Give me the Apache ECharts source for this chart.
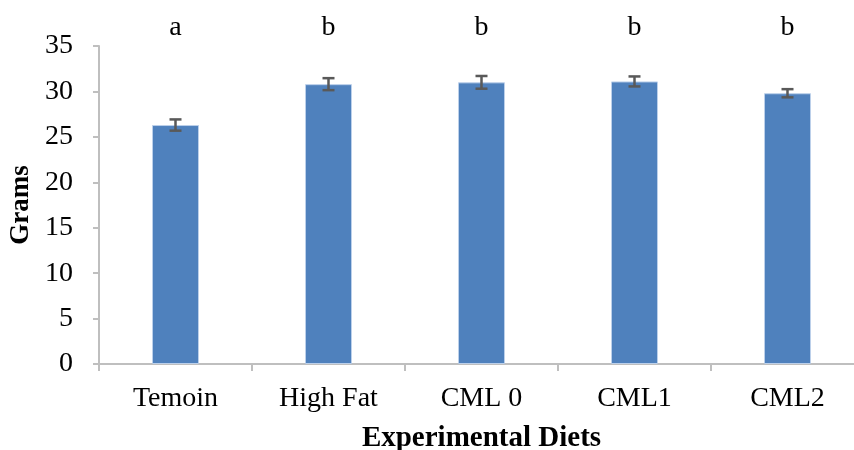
<!DOCTYPE html>
<html>
<head>
<meta charset="utf-8">
<script src="https://cdn.jsdelivr.net/npm/echarts@6/dist/echarts.min.js"></script>
<style>
  html, body { margin: 0; padding: 0; background: #ffffff; }
  #chart { width: 854px; height: 450px; }
</style>
</head>
<body>
<div id="chart"></div>
<script>
// Body weight (grams) by experimental diet, mean ± error, with significance letters
const diets = ['Temoin', 'High Fat', 'CML 0', 'CML1', 'CML2'];
const grams = [26.3, 30.8, 31.0, 31.1, 29.8];
const errors = [0.62, 0.66, 0.7, 0.55, 0.45];
const groupLetters = ['a', 'b', 'b', 'b', 'b'];
const yTicks = [0, 5, 10, 15, 20, 25, 30, 35];

const serif = '"Liberation Serif", "DejaVu Serif", serif';
const axisGrey = '#bfbfbf';

const chart = echarts.init(document.getElementById('chart'));

chart.setOption({
  animation: false,
  backgroundColor: '#ffffff',
  grid: { left: 99, top: 46, bottom: 86, width: 765, outerBoundsMode: 'none', containLabel: false },
  xAxis: [
    {
      type: 'category',
      data: diets,
      position: 'bottom',
      axisLine: { show: true, lineStyle: { color: axisGrey, width: 2 } },
      axisTick: { show: true, length: 7, lineStyle: { color: axisGrey, width: 2 } },
      axisLabel: { color: '#000', fontFamily: serif, fontSize: 28, margin: 21 },
      name: 'Experimental Diets',
      nameLocation: 'middle',
      nameGap: 60,
      nameTextStyle: { color: '#000', fontFamily: serif, fontSize: 29, fontWeight: 'bold' }
    },
    {
      // significance letters above each diet
      type: 'category',
      data: diets,
      position: 'top',
      axisLine: { show: false },
      axisTick: { show: false },
      axisLabel: {
        color: '#000', fontFamily: serif, fontSize: 28, margin: 4,
        formatter: (v, i) => groupLetters[i]
      }
    }
  ],
  yAxis: {
    type: 'value',
    min: yTicks[0],
    max: yTicks[yTicks.length - 1],
    interval: 5,
    axisLine: { show: true, lineStyle: { color: axisGrey, width: 2 } },
    axisTick: { show: true, length: 6, lineStyle: { color: axisGrey, width: 2 } },
    splitLine: { show: false },
    axisLabel: { color: '#000', fontFamily: serif, fontSize: 28, margin: 26 },
    name: 'Grams',
    nameLocation: 'middle',
    nameGap: 64,
    nameTextStyle: { color: '#000', fontFamily: serif, fontSize: 27, fontWeight: 'bold' }
  },
  series: [
    {
      type: 'bar',
      data: grams,
      barWidth: 47,
      itemStyle: { color: '#4f81bd', borderColor: '#bcd0ea', borderWidth: 1 }
    },
    {
      type: 'custom',
      clip: false,
      z: 5,
      data: grams.map((g, i) => [i, g - errors[i], g + errors[i]]),
      encode: { x: 0, y: [1, 2] },
      renderItem: function (params, api) {
        const lo = api.coord([api.value(0), api.value(1)]);
        const hi = api.coord([api.value(0), api.value(2)]);
        const cap = 6;
        const style = { stroke: '#595959', lineWidth: 2.5 };
        return {
          type: 'group',
          children: [
            { type: 'line', shape: { x1: lo[0], y1: lo[1], x2: hi[0], y2: hi[1] }, style },
            { type: 'line', shape: { x1: lo[0] - cap, y1: lo[1], x2: lo[0] + cap, y2: lo[1] }, style },
            { type: 'line', shape: { x1: hi[0] - cap, y1: hi[1], x2: hi[0] + cap, y2: hi[1] }, style }
          ]
        };
      }
    }
  ]
});
</script>
</body>
</html>
